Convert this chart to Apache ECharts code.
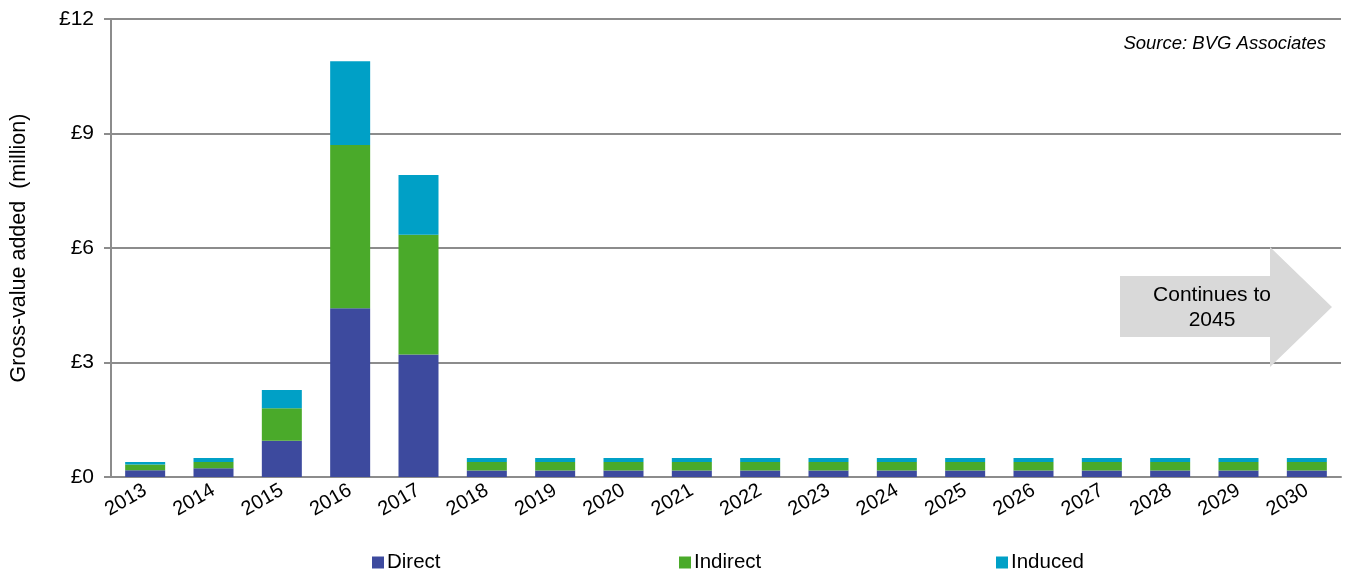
<!DOCTYPE html>
<html>
<head>
<meta charset="utf-8">
<title>Gross-value added</title>
<script src="https://cdn.jsdelivr.net/npm/echarts@6/dist/echarts.min.js"></script>
<style>
  html, body { margin: 0; padding: 0; background: #ffffff; }
  #chart { width: 1354px; height: 574px; }
</style>
</head>
<body>
<div id="chart"></div>
<script>
// Gross-value added by year, £ million, split by effect type
const years = ['2013', '2014', '2015', '2016', '2017', '2018', '2019', '2020', '2021',
  '2022', '2023', '2024', '2025', '2026', '2027', '2028', '2029', '2030'];
const direct   = [0.18, 0.23, 0.95, 4.42, 3.21, 0.17, 0.17, 0.17, 0.17, 0.17, 0.17, 0.17, 0.17, 0.17, 0.17, 0.17, 0.17, 0.17];
const indirect = [0.15, 0.16, 0.85, 4.28, 3.14, 0.22, 0.22, 0.22, 0.22, 0.22, 0.22, 0.22, 0.22, 0.22, 0.22, 0.22, 0.22, 0.22];
const induced  = [0.06, 0.11, 0.48, 2.19, 1.56, 0.11, 0.11, 0.11, 0.11, 0.11, 0.11, 0.11, 0.11, 0.11, 0.11, 0.11, 0.11, 0.11];
const yTicks = { min: 0, max: 12, interval: 3 };

const FONT = '"Liberation Sans", Arial, sans-serif';
const AXIS_GREY = '#8c8c8c';
const COLORS = { Direct: '#3d4a9e', Indirect: '#4aaa2a', Induced: '#00a0c6' };

const chart = echarts.init(document.getElementById('chart'), null, { renderer: 'canvas' });

function legendAt(name, left) {
  return {
    data: [name],
    left: left,
    top: 547,
    icon: 'rect',
    itemWidth: 12,
    itemHeight: 12,
    itemGap: 0,
    textStyle: { fontFamily: FONT, fontSize: 20.5, color: '#000', padding: [0, 0, 0, -2] },
    selectedMode: false
  };
}

function stack(name, values) {
  return {
    name: name,
    type: 'bar',
    stack: 'gva',
    data: values,
    barWidth: 40,
    itemStyle: { color: COLORS[name] },
    emphasis: { disabled: true }
  };
}

chart.setOption({
  animation: false,
  textStyle: { fontFamily: FONT },
  grid: { left: 109, right: 13, top: 19, bottom: 97, containLabel: false },
  legend: [legendAt('Direct', 367), legendAt('Indirect', 674), legendAt('Induced', 991)],
  xAxis: {
    type: 'category',
    data: years,
    axisLine: { show: true, lineStyle: { color: AXIS_GREY, width: 2 } },
    axisTick: { show: false },
    axisLabel: { rotate: 30, margin: 12, fontSize: 20, color: '#000', fontFamily: FONT }
  },
  yAxis: {
    type: 'value',
    min: yTicks.min,
    max: yTicks.max,
    interval: yTicks.interval,
    name: 'Gross-value added  (million)',
    nameLocation: 'middle',
    nameGap: 81,
    nameTextStyle: { fontSize: 21.5, color: '#000', fontFamily: FONT },
    axisLine: { show: true, lineStyle: { color: AXIS_GREY, width: 2 } },
    axisTick: { show: true, length: 7, lineStyle: { color: AXIS_GREY, width: 2 } },
    axisLabel: { formatter: '£{value}', margin: 17, fontSize: 21, color: '#000', fontFamily: FONT },
    splitLine: { show: true, lineStyle: { color: AXIS_GREY, width: 2 } }
  },
  series: [stack('Direct', direct), stack('Indirect', indirect), stack('Induced', induced)],
  graphic: [
    {
      type: 'text',
      right: 28,
      top: 34,
      style: {
        text: 'Source: BVG Associates',
        font: 'italic 18.5px ' + FONT,
        fill: '#000'
      }
    },
    {
      type: 'polygon',
      shape: {
        points: [[1120, 276], [1270, 276], [1270, 247], [1332, 307],
                 [1270, 367], [1270, 337], [1120, 337]]
      },
      style: { fill: '#d9d9d9' },
      z: 10
    },
    {
      type: 'text',
      x: 1212,
      y: 308,
      style: {
        text: 'Continues to\n2045',
        font: '21px ' + FONT,
        fill: '#000',
        align: 'center',
        verticalAlign: 'middle',
        lineHeight: 25
      },
      z: 11
    }
  ]
});
</script>
</body>
</html>
